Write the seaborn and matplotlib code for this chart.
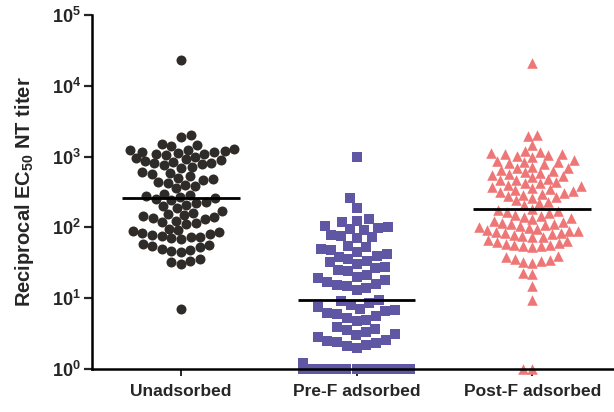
import numpy as np
import pandas as pd
import matplotlib
matplotlib.use("Agg")
import matplotlib.pyplot as plt
import seaborn as sns
from matplotlib.ticker import FuncFormatter, FixedLocator, NullLocator

# values (reciprocal EC50 NT titer)
groups = ["Unadsorbed", "Pre-F adsorbed", "Post-F adsorbed"]

unadsorbed = [23000,
              2000, 1900,
              1500, 1450, 1400,
              1300, 1250, 1220, 1200, 1180, 1150, 1120, 1100, 1080, 1050,
              980, 950, 920, 900, 870, 850, 820, 800, 780, 750, 720, 700,
              600, 580, 560, 530, 500, 480, 460, 440, 420, 400, 380, 360,
              300, 290, 280, 270, 260, 250, 240, 230, 220, 210, 200, 190,
              170, 160, 155, 150, 145, 140, 135, 130, 125, 120, 115, 110,
              95, 92, 88, 85, 82, 80, 78, 76, 74, 72, 70, 68,
              58, 56, 54, 52, 50, 48, 46, 45,
              36, 34, 32, 30,
              7]

pre_f = [1000, 260, 190,
         130, 125, 120,
         105, 100, 98, 95, 92,
         78, 75, 72, 70,
         55, 52, 50, 48,
         45, 42, 40, 38, 36, 34, 32, 30, 28, 27, 25, 24,
         21, 20, 19, 18, 17, 16, 15.5, 15, 14, 13,
         9.5, 9, 8.5, 8, 7.5, 7, 6.8, 6.5, 6.2, 6, 5.6, 5.3, 5, 4.8,
         3.9, 3.7, 3.5, 3.3, 3.1, 3.0, 2.8, 2.6, 2.5, 2.4, 2.3, 2.2, 2.1, 2.0,
         1.2, 1, 1, 1, 1, 1, 1, 1, 1, 1, 1, 1, 1, 1]

post_f = [21000, 2000, 1950, 1450,
          1200, 1150, 1120, 1100, 1080, 1050, 1020, 1000,
          900, 870, 850, 830, 810, 790,
          720, 700, 680, 650, 630, 610, 590, 570, 550, 530, 510, 490, 470, 460,
          440, 430, 420,
          400, 380, 370, 360, 350, 340, 330, 320, 310, 300, 290, 280, 270, 260,
          240, 230, 220, 210,
          180, 175, 170,
          165, 160, 150, 145, 140, 135, 130, 125, 120, 115, 112, 110, 108, 105,
          100, 97, 94, 92, 90, 88, 86, 84, 82, 80, 78, 76, 74, 72,
          66, 64, 62, 60, 58, 57, 56, 55, 54, 52,
          40, 38, 36, 35, 34, 32, 31,
          23, 22, 15, 9.3, 1, 1]

colors = ["#2f2b28", "#5f57a3", "#ef7676"]
markers = ["o", "s", "^"]
sizes = [7.2, 6.5, 7.6]          # drawn marker size
layout_sizes = [7.0, 9.0, 7.2]   # size used for the swarm spacing

series = [unadsorbed, pre_f, post_f]
df = pd.concat([pd.DataFrame({"group": g, "titer": v}) for g, v in zip(groups, series)],
               ignore_index=True)

sns.set_theme(style="ticks")
plt.rcParams["font.family"] = ["Liberation Sans", "DejaVu Sans"]
plt.rcParams["font.weight"] = "bold"
plt.rcParams["mathtext.fontset"] = "custom"
plt.rcParams["mathtext.rm"] = "Liberation Sans:bold"
plt.rcParams["mathtext.bf"] = "Liberation Sans:bold"
plt.rcParams["mathtext.it"] = "Liberation Sans:bold"

fig = plt.figure(figsize=(6.14, 4.12), dpi=100)
ax = fig.add_axes([0.1498, 0.1044, 0.8502, 0.8592])
ax.set_yscale("log")

colls = []
for i, g in enumerate(groups):
    n_before = len(ax.collections)
    sns.swarmplot(data=df[df["group"] == g], x="group", y="titer", order=groups,
                  color=colors[i], marker=markers[i], size=layout_sizes[i],
                  linewidth=0, ax=ax, warn_thresh=1.0, zorder=2)
    new = [c for c in ax.collections[n_before:] if len(c.get_offsets()) > 0]
    colls.append(new[0])

ax.set_ylim(1, 1e5)
ax.set_xlim(-0.506, 2.466)
fig.canvas.draw()

# fit each swarm to the group width and freeze it
half = 0.305
for i, c in enumerate(colls):
    off = np.array(c.get_offsets())
    dx = off[:, 0] - i
    yv = off[:, 1]
    uniq, counts = np.unique(yv, return_counts=True)
    tied = np.isin(yv, uniq[counts >= 4])
    for mask in (tied, ~tied):
        if mask.any():
            m = np.abs(dx[mask]).max()
            if m > 0:
                off[mask, 0] = i + dx[mask] * half / m
    if "draw" in c.__dict__:
        del c.draw
    c.set_offsets(off)
    c.set_sizes([sizes[i] ** 2])
    c.set_clip_on(False)

# median lines
for i, v in enumerate(series):
    ax.hlines(np.median(v), i - 0.335, i + 0.335, color="black", lw=2.0, zorder=3)

ax.yaxis.set_major_locator(FixedLocator([1, 10, 100, 1000, 1e4, 1e5]))
ax.yaxis.set_minor_locator(NullLocator())
ax.yaxis.set_major_formatter(FuncFormatter(lambda y, p: r"$\mathbf{10^{%d}}$" % round(np.log10(y))))

ax.set_xlabel("")
ax.set_ylabel(r"Reciprocal EC$_{\mathbf{50}}$ NT titer", fontsize=14.5, fontweight="bold", labelpad=11)
ax.tick_params(axis="y", labelsize=13, width=1.6, length=6, pad=2)
ax.tick_params(axis="x", labelsize=12.5, width=1.4, length=5, pad=6)
for lab in ax.get_xticklabels():
    lab.set_fontweight("bold")

sns.despine(ax=ax)
for s in ["left", "bottom"]:
    ax.spines[s].set_linewidth(1.8)
    ax.spines[s].set_color("black")

fig.savefig("out.png", dpi=100)
